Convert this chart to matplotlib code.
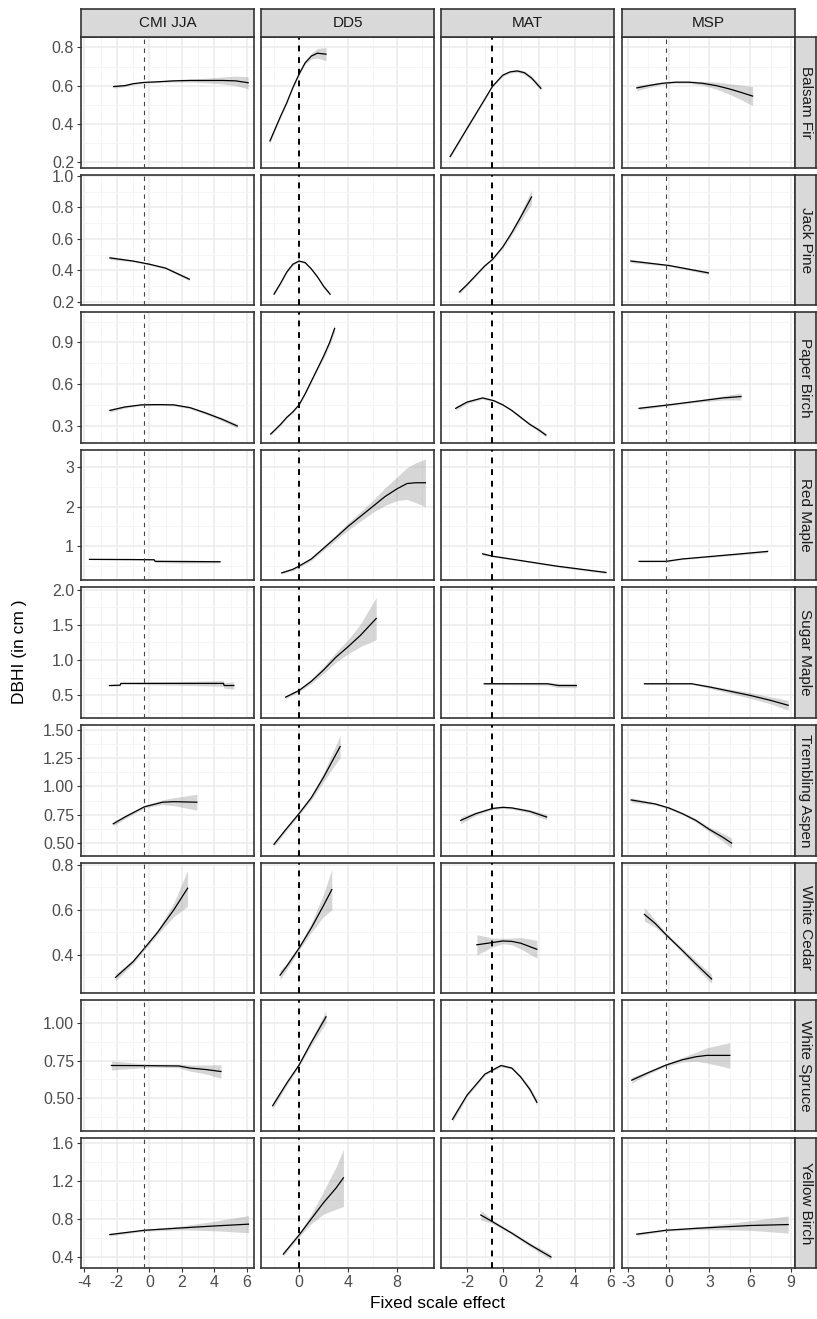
import matplotlib
matplotlib.use('Agg')
import matplotlib.pyplot as plt
import numpy as np

W, H = 817, 1319

species = ['Balsam Fir', 'Jack Pine', 'Paper Birch', 'Red Maple', 'Sugar Maple',
           'Trembling Aspen', 'White Cedar', 'White Spruce', 'Yellow Birch']
variables = ['CMI JJA', 'DD5', 'MAT', 'MSP']

# dashed reference line per column (centred zero)
vline_x = [-0.3, 0.0, -0.58, -0.2]

# x axis per column: limits, major breaks, minor breaks
x_lims = [(-4.2, 6.43), (-3.1, 11.0), (-3.45, 6.2), (-3.44, 9.3)]
x_major = [[-4, -2, 0, 2, 4, 6], [0, 4, 8], [-2, 0, 2, 4, 6], [-3, 0, 3, 6, 9]]
x_minor = [[-3, -1, 1, 3, 5], [-2, 2, 6, 10], [-3, -1, 1, 3, 5], [-1.5, 1.5, 4.5, 7.5]]
x_labels = [['-4', '-2', '0', '2', '4', '6'], ['0', '4', '8'], ['-2', '0', '2', '4', '6'],
            ['-3', '0', '3', '6', '9']]

# y axis per row
y_lims = [(0.17, 0.855), (0.18, 1.008), (0.177, 1.117), (0.14, 3.43), (0.18, 2.03),
          (0.39, 1.54), (0.23, 0.81), (0.284, 1.15), (0.28, 1.65)]
y_major = [[0.2, 0.4, 0.6, 0.8], [0.2, 0.4, 0.6, 0.8, 1.0], [0.3, 0.6, 0.9], [1, 2, 3],
           [0.5, 1.0, 1.5, 2.0], [0.5, 0.75, 1.0, 1.25, 1.5], [0.4, 0.6, 0.8],
           [0.5, 0.75, 1.0], [0.4, 0.8, 1.2, 1.6]]
y_minor = [[0.3, 0.5, 0.7], [0.3, 0.5, 0.7, 0.9], [0.45, 0.75, 1.05], [0.5, 1.5, 2.5],
           [0.25, 0.75, 1.25, 1.75], [0.625, 0.875, 1.125, 1.375], [0.3, 0.5, 0.7],
           [0.375, 0.625, 0.875, 1.125], [0.6, 1.0, 1.4]]
y_labels = [['0.2', '0.4', '0.6', '0.8'], ['0.2', '0.4', '0.6', '0.8', '1.0'],
            ['0.3', '0.6', '0.9'], ['1', '2', '3'], ['0.5', '1.0', '1.5', '2.0'],
            ['0.50', '0.75', '1.00', '1.25', '1.50'], ['0.4', '0.6', '0.8'],
            ['0.50', '0.75', '1.00'], ['0.4', '0.8', '1.2', '1.6']]

# fitted curves: (x, DBHI, half-width of ribbon) for CMI JJA, DD5, MAT, MSP
balsam_fir = [
    ([-2.2, -1.5, -1, -0.3, 0.5, 1.5, 2.5, 3.5, 4.5, 5.3, 6.07],
     [0.595, 0.6, 0.61, 0.617, 0.62, 0.625, 0.627, 0.627, 0.627, 0.625, 0.615],
     [0.008, 0.006, 0.005, 0.004, 0.004, 0.006, 0.008, 0.012, 0.018, 0.025, 0.032]),
    ([-2.37, -1.5, -1, -0.5, 0, 0.5, 1, 1.5, 2.2],
     [0.31, 0.44, 0.51, 0.59, 0.66, 0.72, 0.755, 0.77, 0.765],
     [0.01, 0.008, 0.006, 0.005, 0.005, 0.008, 0.015, 0.025, 0.035]),
    ([-2.94, -2, -1, -0.58, 0, 0.4, 0.8, 1.2, 1.6, 2.12],
     [0.228, 0.375, 0.53, 0.596, 0.655, 0.672, 0.677, 0.668, 0.64, 0.586],
     [0.008, 0.006, 0.005, 0.004, 0.005, 0.006, 0.008, 0.009, 0.01, 0.012]),
    ([-2.35, -1.5, -0.5, 0.5, 1.5, 2.5, 3.5, 4.5, 5.3, 6.18],
     [0.588, 0.6, 0.612, 0.618, 0.618, 0.612, 0.6, 0.582, 0.565, 0.545],
     [0.014, 0.01, 0.006, 0.005, 0.006, 0.01, 0.018, 0.028, 0.038, 0.05]),
]
jack_pine = [
    ([-2.43, -1, 0, 1, 2.45], [0.48, 0.46, 0.44, 0.415, 0.345],
     [0.01, 0.006, 0.005, 0.006, 0.01]),
    ([-2.04, -1.5, -1, -0.5, 0, 0.5, 1, 1.5, 2, 2.53],
     [0.25, 0.32, 0.39, 0.44, 0.46, 0.45, 0.41, 0.36, 0.3, 0.25],
     [0.008, 0.007, 0.006, 0.006, 0.006, 0.006, 0.006, 0.007, 0.008, 0.009]),
    ([-2.42, -2, -1.5, -1, -0.58, 0, 0.5, 1, 1.6],
     [0.264, 0.31, 0.37, 0.43, 0.47, 0.55, 0.64, 0.74, 0.866],
     [0.01, 0.008, 0.006, 0.005, 0.005, 0.008, 0.015, 0.025, 0.045]),
    ([-2.79, 0, 2.92], [0.46, 0.432, 0.385], [0.01, 0.005, 0.01]),
]
paper_birch = [
    ([-2.43, -1.5, -0.5, 0.5, 1.5, 2.5, 3.5, 4.5, 5.4],
     [0.41, 0.435, 0.45, 0.452, 0.45, 0.43, 0.39, 0.345, 0.298],
     [0.012, 0.008, 0.006, 0.006, 0.007, 0.008, 0.01, 0.012, 0.015]),
    ([-2.31, -1.5, -1, -0.5, 0, 0.5, 1, 1.5, 2, 2.5, 2.9],
     [0.24, 0.31, 0.36, 0.4, 0.45, 0.53, 0.62, 0.71, 0.8, 0.9, 1.0],
     [0.01, 0.008, 0.007, 0.007, 0.007, 0.008, 0.01, 0.012, 0.015, 0.02, 0.025]),
    ([-2.63, -2, -1.13, -0.5, 0, 0.5, 1, 1.5, 2, 2.4],
     [0.425, 0.47, 0.5, 0.48, 0.45, 0.41, 0.36, 0.31, 0.27, 0.233],
     [0.015, 0.01, 0.008, 0.007, 0.007, 0.008, 0.009, 0.01, 0.012, 0.013]),
    ([-2.18, 0, 2, 4, 5.32], [0.425, 0.45, 0.475, 0.5, 0.51],
     [0.01, 0.006, 0.008, 0.015, 0.025]),
]
red_maple = [
    ([-3.68, -1, 0.3, 0.35, 2, 4.34], [0.67, 0.665, 0.66, 0.62, 0.615, 0.61],
     [0.01, 0.01, 0.01, 0.03, 0.04, 0.03]),
    ([-1.41, -0.5, 0, 1, 2, 3, 4, 5, 6, 7, 8, 8.8, 9.5, 10.3],
     [0.33, 0.42, 0.5, 0.68, 0.95, 1.22, 1.5, 1.75, 2.0, 2.25, 2.45, 2.58, 2.6, 2.6],
     [0.03, 0.03, 0.03, 0.04, 0.05, 0.07, 0.09, 0.12, 0.15, 0.22, 0.3, 0.4, 0.5, 0.6]),
    ([-1.13, -0.58, 1, 3, 5.75], [0.81, 0.75, 0.64, 0.5, 0.34],
     [0.03, 0.02, 0.015, 0.02, 0.03]),
    ([-2.18, -0.2, 1, 3, 5, 7.28], [0.62, 0.62, 0.68, 0.74, 0.8, 0.87],
     [0.02, 0.015, 0.015, 0.02, 0.025, 0.03]),
]
sugar_maple = [
    ([-2.45, -1.8, -1.75, 4.55, 4.6, 5.19], [0.64, 0.645, 0.67, 0.67, 0.64, 0.64],
     [0.01, 0.01, 0.01, 0.04, 0.04, 0.05]),
    ([-1.09, 0, 1, 2, 3, 4, 5, 6.29], [0.476, 0.57, 0.7, 0.86, 1.04, 1.19, 1.35, 1.59],
     [0.02, 0.02, 0.03, 0.05, 0.07, 0.1, 0.16, 0.3]),
    ([-1.04, 2.5, 3.1, 4.1], [0.665, 0.665, 0.64, 0.64], [0.01, 0.02, 0.03, 0.03]),
    ([-1.79, 1.7, 3, 4.5, 6, 7.5, 8.8], [0.665, 0.665, 0.62, 0.56, 0.5, 0.43, 0.36],
     [0.01, 0.01, 0.02, 0.03, 0.04, 0.05, 0.07]),
]
trembling_aspen = [
    ([-2.22, -1.5, -0.3, 0.8, 1.5, 2.92], [0.67, 0.73, 0.82, 0.86, 0.865, 0.86],
     [0.02, 0.015, 0.01, 0.02, 0.035, 0.07]),
    ([-2.04, -1, 0, 1, 2, 3, 3.35], [0.49, 0.63, 0.76, 0.9, 1.08, 1.28, 1.35],
     [0.02, 0.015, 0.015, 0.02, 0.04, 0.08, 0.1]),
    ([-2.35, -1.5, -0.58, 0, 0.5, 1.5, 2.44], [0.7, 0.76, 0.805, 0.815, 0.81, 0.78, 0.73],
     [0.03, 0.015, 0.01, 0.01, 0.01, 0.015, 0.025]),
    ([-2.77, -1, 0, 1, 2, 3, 4, 4.63], [0.88, 0.845, 0.81, 0.76, 0.7, 0.62, 0.55, 0.5],
     [0.02, 0.01, 0.01, 0.01, 0.015, 0.02, 0.035, 0.045]),
]
white_cedar = [
    ([-2.08, -1, -0.3, 0.5, 1.5, 2.35], [0.30, 0.37, 0.43, 0.5, 0.6, 0.696],
     [0.015, 0.01, 0.008, 0.01, 0.03, 0.08]),
    ([-1.55, -1, 0, 1, 2, 2.67], [0.31, 0.35, 0.43, 0.52, 0.62, 0.69],
     [0.02, 0.015, 0.01, 0.02, 0.05, 0.09]),
    ([-1.45, -0.58, 0, 0.5, 1, 1.9], [0.445, 0.455, 0.462, 0.46, 0.452, 0.425],
     [0.045, 0.02, 0.012, 0.015, 0.025, 0.04]),
    ([-1.79, -1, -0.2, 1, 2, 3.16], [0.58, 0.54, 0.49, 0.42, 0.36, 0.293],
     [0.03, 0.015, 0.008, 0.01, 0.015, 0.02]),
]
white_spruce = [
    ([-2.33, 0, 1.8, 2.5, 3.5, 4.4], [0.717, 0.716, 0.714, 0.7, 0.69, 0.677],
     [0.03, 0.01, 0.012, 0.02, 0.03, 0.045]),
    ([-2.15, -1, 0, 1, 2.2], [0.45, 0.6, 0.72, 0.87, 1.04],
     [0.02, 0.015, 0.01, 0.02, 0.04]),
    ([-2.81, -2, -1, -0.1, 0.5, 1, 1.5, 1.9],
     [0.36, 0.52, 0.66, 0.717, 0.7, 0.64, 0.56, 0.473],
     [0.02, 0.01, 0.008, 0.008, 0.008, 0.01, 0.015, 0.02]),
    ([-2.72, -1.5, -0.2, 1, 2, 2.8, 4.5], [0.62, 0.67, 0.72, 0.755, 0.775, 0.784, 0.784],
     [0.02, 0.01, 0.008, 0.015, 0.03, 0.05, 0.085]),
]
yellow_birch = [
    ([-2.43, -0.3, 2, 4, 6.09], [0.635, 0.68, 0.705, 0.725, 0.744],
     [0.015, 0.01, 0.02, 0.05, 0.09]),
    ([-1.28, 0, 1, 2, 3, 3.62], [0.43, 0.63, 0.8, 0.97, 1.12, 1.23],
     [0.02, 0.02, 0.05, 0.12, 0.22, 0.3]),
    ([-1.23, -0.58, 0.5, 1.5, 2.68], [0.84, 0.77, 0.65, 0.53, 0.4],
     [0.05, 0.02, 0.015, 0.02, 0.03]),
    ([-2.35, -0.2, 2, 4, 6, 8.8], [0.639, 0.68, 0.7, 0.715, 0.73, 0.74],
     [0.015, 0.008, 0.015, 0.03, 0.05, 0.09]),
]
curves = [balsam_fir, jack_pine, paper_birch, red_maple, sugar_maple,
          trembling_aspen, white_cedar, white_spruce, yellow_birch]

plt.rcParams['font.family'] = ['Liberation Sans', 'DejaVu Sans']

fig = plt.figure(figsize=(W / 100, H / 100), dpi=100)

col_left = [81, 261, 441, 622]
panel_w = 173
row_top0 = 37
row_pitch = 137.6
panel_h = 130.6
strip_top_h = 28
strip_right_w = 21


def fig_rect(x0, y0, w, h):
    # pixel box (top-left origin) -> figure fraction
    return [x0 / W, 1 - (y0 + h) / H, w / W, h / H]


border = '#333333'
for r, sp in enumerate(species):
    top = row_top0 + r * row_pitch
    for c, var in enumerate(variables):
        ax = fig.add_axes(fig_rect(col_left[c], top, panel_w, panel_h))
        ax.set_xlim(*x_lims[c])
        ax.set_ylim(*y_lims[r])
        ax.set_xticks(x_major[c])
        ax.set_xticks(x_minor[c], minor=True)
        ax.set_yticks(y_major[r])
        ax.set_yticks(y_minor[r], minor=True)
        ax.grid(True, which='major', color='#EBEBEB', lw=1.1, zorder=0)
        ax.grid(True, which='minor', color='#F4F4F4', lw=0.6, zorder=0)
        ax.set_axisbelow(True)
        for s in ax.spines.values():
            s.set_color(border)
            s.set_linewidth(1.2)
        ax.tick_params(which='minor', length=0)
        ax.tick_params(which='major', length=3, color='#333333', width=0.8,
                       labelsize=11.5, labelcolor='#4D4D4D', pad=2)
        if c == 0:
            ax.set_yticklabels(y_labels[r])
        else:
            ax.tick_params(axis='y', which='major', length=0, labelleft=False)
        if r == len(species) - 1:
            ax.set_xticklabels(x_labels[c])
        else:
            ax.tick_params(axis='x', which='major', length=0, labelbottom=False)

        xs, ys, se = curves[r][c]
        xs, ys, se = np.array(xs), np.array(ys), np.array(se)
        ax.fill_between(xs, ys - se, ys + se, color='#999999', alpha=0.4, lw=0, zorder=2)
        ax.plot(xs, ys, color='black', lw=0.9, zorder=3)
        if c in (1, 2):
            ax.axvline(vline_x[c], color='black', lw=1.4, ls=(0, (3, 3)), zorder=4)
        else:
            ax.axvline(vline_x[c], color='#444444', lw=0.8, ls=(0, (4, 4)), zorder=4)

        if r == 0:
            sax = fig.add_axes(fig_rect(col_left[c], top - strip_top_h, panel_w, strip_top_h))
            sax.set_facecolor('#D9D9D9')
            sax.set_xticks([])
            sax.set_yticks([])
            for s in sax.spines.values():
                s.set_color(border)
                s.set_linewidth(1.2)
            sax.text(0.5, 0.5, var, ha='center', va='center', fontsize=11,
                     color='#1A1A1A', transform=sax.transAxes)
    rax = fig.add_axes(fig_rect(col_left[3] + panel_w, top, strip_right_w, panel_h))
    rax.set_facecolor('#D9D9D9')
    rax.set_xticks([])
    rax.set_yticks([])
    for s in rax.spines.values():
        s.set_color(border)
        s.set_linewidth(1.2)
    rax.text(0.5, 0.5, sp, ha='center', va='center', fontsize=11, rotation=-90,
             color='#1A1A1A', transform=rax.transAxes)

fig.text(20 / W, 1 - 652 / H, 'DBHI (in cm )', rotation=90, ha='center', va='center',
         fontsize=12.5, color='black')
fig.text(438 / W, 1 - 1304 / H, 'Fixed scale effect', ha='center', va='center',
         fontsize=12.5, color='black')

fig.savefig('out.png', dpi=100, facecolor='white')
